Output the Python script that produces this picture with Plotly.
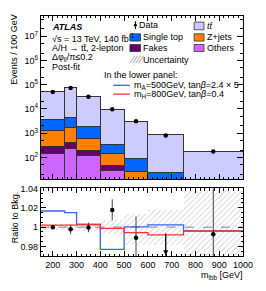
import plotly.graph_objects as go

# ---------------- data ----------------
bin_edges = [150, 250, 300, 400, 500, 600, 750, 1000]
bin_centers = [200, 275, 350, 450, 550, 675, 875]
bin_widths = [100, 50, 100, 100, 100, 150, 250]

others = [145, 225, 117, 29, 6, 3, 1]
fakes = [125, 195, 70, 17, 5, 2, 1]
zjets = [1060, 1360, 443, 99, 15, 5, 2]
single_top = [2270, 2720, 1170, 210, 65, 15, 5]
ttbar = [46400, 69500, 30200, 9145, 3009, 825, 166]
data_events = [50000, 73800, 32000, 9670, 3070, 810, 174]

ratio_data = [1.000, 0.9977, 0.9997, 1.0178, 0.989, 0.955, 0.9926]
ratio_data_err = [0.002, 0.005, 0.005, 0.011, 0.022, 0.039, 0.06]
unc_up = [0.003, 0.003, 0.0035, 0.007, 0.014, 0.018, 0.037]
unc_down = [0.003, 0.003, 0.004, 0.007, 0.018, 0.018, 0.037]
ratio_mA500 = [1.0167, 1.015, 1.0027, 0.977, 1.0003, 1.0023, 0.996]
ratio_mH800 = [1.002, 1.002, 1.0027, 0.9987, 0.9943, 0.992, 0.996]

main_ticks = [2, 3, 4, 5, 6, 7]

# ---------------- geometry helpers ----------------
W, H = 266, 291
def px(x):
    return x / W
def py(y):
    return 1 - y / H

FONT = "Liberation Sans, Arial, sans-serif"
C_TT = "#ccccff"
C_ST = "#0066ff"
C_Z = "#ff8000"
C_FAKE = "#660066"
C_OTH = "#cc66ff"
C_BLUE = "#3366ff"
C_RED = "#ff3333"
EDGE = "#333333"
HATCH = "#8c8c8c"

fig = go.Figure()

for name, vals, col in [("Others", others, C_OTH), ("Fakes", fakes, C_FAKE),
                        ("Z+jets", zjets, C_Z), ("Single top", single_top, C_ST),
                        ("ttbar", ttbar, C_TT)]:
    fig.add_trace(go.Bar(x=bin_centers, y=vals, width=bin_widths, name=name,
                         marker=dict(color=col, line=dict(color=EDGE, width=1)),
                         xaxis="x", yaxis="y", showlegend=False))

fig.add_trace(go.Scatter(x=bin_centers, y=data_events, mode="markers",
                         marker=dict(color="black", size=4.5),
                         xaxis="x", yaxis="y", showlegend=False))

# ratio panel
fig.add_trace(go.Bar(x=bin_centers, width=bin_widths,
                     base=[1 - d for d in unc_down],
                     y=[u + d for u, d in zip(unc_up, unc_down)],
                     marker=dict(color="rgba(0,0,0,0)", line=dict(width=0),
                                 pattern=dict(shape="/", fgcolor=HATCH,
                                              bgcolor="rgba(0,0,0,0)", size=4, solidity=0.22)),
                     xaxis="x2", yaxis="y2", showlegend=False))

step_x = bin_edges
fig.add_trace(go.Scatter(x=step_x, y=ratio_mA500 + [ratio_mA500[-1]], mode="lines",
                         line=dict(color=C_BLUE, width=1.3, shape="hv"),
                         xaxis="x2", yaxis="y2", showlegend=False))
fig.add_trace(go.Scatter(x=step_x, y=ratio_mH800 + [ratio_mH800[-1]], mode="lines",
                         line=dict(color=C_RED, width=1.3, shape="hv"),
                         xaxis="x2", yaxis="y2", showlegend=False))

RLO, RHI = 0.97, 1.04
fig.add_trace(go.Scatter(x=bin_centers, y=ratio_data, mode="markers",
                         marker=dict(color="black", size=4.5),
                         error_y=dict(type="data", array=ratio_data_err, color="#444444",
                                      thickness=1, width=0),
                         xaxis="x2", yaxis="y2", showlegend=False))

annotations = []
# off-scale arrows
for xc, r, e in zip(bin_centers, ratio_data, ratio_data_err):
    if r < RLO:
        annotations.append(dict(x=xc, y=RLO + 0.0008, ax=xc, ay=r + e, xref="x2", yref="y2",
                                axref="x2", ayref="y2", showarrow=True, arrowhead=2,
                                arrowsize=1, arrowwidth=1, arrowcolor="black", text=""))

axis_common = dict(showline=True, linecolor="black", linewidth=1, mirror="allticks",
                   ticks="inside", tickcolor="black", showgrid=False, zeroline=False,
                   tickfont=dict(family=FONT, size=9, color="black"))

fig.update_layout(
    width=W, height=H, margin=dict(l=0, r=0, t=0, b=0),
    paper_bgcolor="white", plot_bgcolor="white",
    barmode="stack", showlegend=False,
    xaxis=dict(domain=[px(42.5), px(252.5)], range=[150, 1000], anchor="y",
               showticklabels=False, tick0=0, dtick=100, ticklen=5,
               minor=dict(ticks="inside", ticklen=2.5, dtick=20, tick0=0, tickcolor="black"),
               **axis_common),
    yaxis=dict(domain=[py(177.3), py(11)], type="log", range=[1.1, 7.84], anchor="x",
               tickvals=[10 ** k for k in main_ticks],
               ticktext=["10<sup>%d</sup>" % k for k in main_ticks], ticklen=6,
               minor=dict(ticks="inside", ticklen=3, tickcolor="black"),
               **axis_common),
    xaxis2=dict(domain=[px(42.5), px(252.5)], range=[150, 1000], anchor="y2",
                matches="x", tick0=0, dtick=100, ticklen=5,
                minor=dict(ticks="inside", ticklen=2.5, dtick=20, tick0=0, tickcolor="black"),
                **axis_common),
    yaxis2=dict(domain=[py(255.5), py(186.7)], range=[RLO, RHI], anchor="x2",
                tick0=1, dtick=0.02, ticklen=5,
                minor=dict(ticks="inside", ticklen=2.5, dtick=0.005, tick0=1, tickcolor="black"),
                **axis_common),
)

fig.add_shape(type="line", xref="x2 domain", yref="y2", x0=0, x1=1, y0=1, y1=1,
              line=dict(color="#666666", width=0.8, dash="dash"), layer="below")

def txt(x, y, s, size=9, anchor="left", yanchor="middle", angle=0, **kw):
    annotations.append(dict(x=px(x), y=py(y), xref="paper", yref="paper", text=s,
                            showarrow=False, xanchor=anchor, yanchor=yanchor,
                            textangle=angle, borderpad=0,
                            font=dict(family=FONT, size=size, color="black"), **kw))

# ATLAS block
txt(52.5, 22.7, "<b><i>ATLAS</i></b>", size=9)
txt(52.5, 33.3, "√s = 13 TeV, 140 fb<sup>-1</sup>")
txt(52.5, 43.3, "A/H → tt\u0304, 2-lepton")
txt(52.5, 53.3, "Δφ<sub>ll</sub>/π≤0.2")
txt(52.5, 63.3, "Post-fit")

# axis titles
txt(15, 8, "Events / 100 GeV", angle=-90, anchor="center", yanchor="top")
txt(15, 188, "Ratio to Bkg.", angle=-90, anchor="center", yanchor="top")
txt(252.5, 275, "m<sub>lbb</sub> [GeV]", anchor="right")

# legend (manual, ROOT style)
shapes = []
def box(x0, y0, x1, y1, col):
    shapes.append(dict(type="rect", xref="paper", yref="paper", x0=px(x0), x1=px(x1),
                       y0=py(y1), y1=py(y0), fillcolor=col, line=dict(color=EDGE, width=0.8)))

# Data entry
shapes.append(dict(type="line", xref="paper", yref="paper", x0=px(140.7), x1=px(140.7),
                   y0=py(24.5), y1=py(16.5), line=dict(color="black", width=1)))
shapes.append(dict(type="circle", xref="paper", yref="paper", x0=px(139.2), x1=px(142.2),
                   y0=py(22), y1=py(19), fillcolor="black", line=dict(color="black", width=0)))
txt(143.3, 20.5, "Data")
box(135, 29.3, 146, 36.7, C_ST); txt(147.3, 33, "Single top")
box(135, 40.2, 146, 47.4, C_FAKE); txt(147.3, 43.8, "Fakes")
# Uncertainty hatch
for i in range(4):
    x0 = 135 + i * 3
    shapes.append(dict(type="line", xref="paper", yref="paper", x0=px(x0), x1=px(x0 + 5),
                       y0=py(59.3), y1=py(51.7), line=dict(color=HATCH, width=0.8)))
txt(147.3, 55.5, "Uncertainty")
box(201.7, 17.4, 212, 25.2, C_TT); txt(214, 21.3, "<i>tt\u0304</i>")
box(201.7, 29.3, 212, 36.7, C_Z); txt(214, 33, "Z+jets")
box(201.7, 40.2, 212, 47.4, C_OTH); txt(214, 43.8, "Others")

txt(106.7, 71.5, "In the lower panel:")
shapes.append(dict(type="line", xref="paper", yref="paper", x0=px(117.7), x1=px(135),
                   y0=py(81.7), y1=py(81.7), line=dict(color=C_BLUE, width=1.3)))
txt(137.7, 81.7, "m<sub>A</sub>=500GeV, tan<i>β</i>=2.4 × 5")
shapes.append(dict(type="line", xref="paper", yref="paper", x0=px(117.7), x1=px(135),
                   y0=py(90.7), y1=py(90.7), line=dict(color=C_RED, width=1.3)))
txt(137.7, 90.7, "m<sub>H</sub>=800GeV, tan<i>β</i>=0.4")

for s in shapes:
    fig.add_shape(**s)
fig.update_layout(annotations=annotations)

fig.write_html("out.html", config={"displayModeBar": False},
               post_script="document.body.style.margin='0px';document.body.style.overflow='hidden';")
